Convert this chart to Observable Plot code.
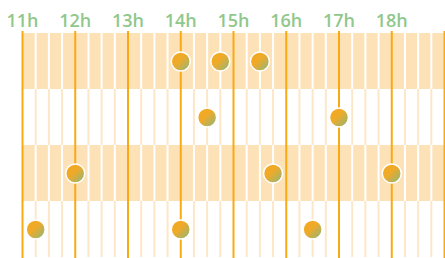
<!DOCTYPE html>
<html><head><meta charset="utf-8">
<script src="https://cdn.jsdelivr.net/npm/d3@7"></script>
<script src="https://cdn.jsdelivr.net/npm/@observablehq/plot@0.6"></script>
<style>
body{margin:0;background:#fff;}
svg{display:block;}
</style></head>
<body><div id="chart"></div>
<script>
// Data
const rows = ["A","B","C","D"];
const shadedRows = ["A","C"];
const eventRows = ["A","A","A","B","B","C","C","C","D","D","D"];
const eventTimes = ["14:00","14:45","15:30","14:30","17:00","12:00","15:45","18:00","11:15","14:00","16:30"];
const hourLabels = [11,12,13,14,15,16,17,18];
const startHour = 11, endHour = 19;

const t = (h, m=0) => new Date(Date.UTC(2020,0,1,h,m));
const parse = s => { const [h,m] = s.split(":").map(Number); return t(h,m); };
const events = eventRows.map((r,i) => ({row:r, time:parse(eventTimes[i])}));
const hours = d3.range(startHour, endHour + 1).map(h => t(h));
const labelTicks = hourLabels.map(h => t(h));
const quarterCells = [];
for (const r of rows) for (let h = startHour; h < endHour; h++) for (const m of [15,30,45])
  quarterCells.push({row:r, time:t(h,m), shaded: shadedRows.includes(r)});

const plot = Plot.plot({
  width: 445, height: 258,
  marginLeft: 22, marginRight: 1, marginTop: 31, marginBottom: 0,
  style: {fontFamily: "'Open Sans', sans-serif", background: "#fff"},
  x: {type: "utc", domain: [t(startHour), t(endHour)], axis: null},
  y: {domain: rows, padding: 0, axis: null},
  marks: [
    Plot.barX(shadedRows, {y: d => d, x1: t(startHour), x2: t(endHour), fill: "#fde2b7"}),
    Plot.tickX(quarterCells.filter(d => !d.shaded), {x: "time", y: "row", stroke: "#fde7c9", strokeWidth: 2}),
    Plot.tickX(quarterCells.filter(d => d.shaded), {x: "time", y: "row", stroke: "#ffffff", strokeWidth: 2}),
    Plot.ruleX(hours, {stroke: "#f9aa12", strokeWidth: 2}),
    Plot.axisX({anchor: "top", ticks: labelTicks, tickSize: 0, tickPadding: 5,
      tickFormat: d => d.getUTCHours() + "h", fontSize: 18, fontWeight: 600, color: "#90c78c"}),
    Plot.dot(events, {x: "time", y: "row", r: 9.5, fill: "url(#dotgrad)", stroke: "#fff", strokeWidth: 1.5})
  ]
});
const ns = "http://www.w3.org/2000/svg";
const defs = document.createElementNS(ns, "defs");
defs.innerHTML = `<linearGradient id="dotgrad" x1="0" y1="0" x2="1" y2="1">
  <stop offset="0" stop-color="#f7a81b"/><stop offset="0.45" stop-color="#eeaa2a"/><stop offset="1" stop-color="#86b883"/></linearGradient>`;
plot.insertBefore(defs, plot.firstChild);
document.getElementById("chart").appendChild(plot);
</script></body></html>
